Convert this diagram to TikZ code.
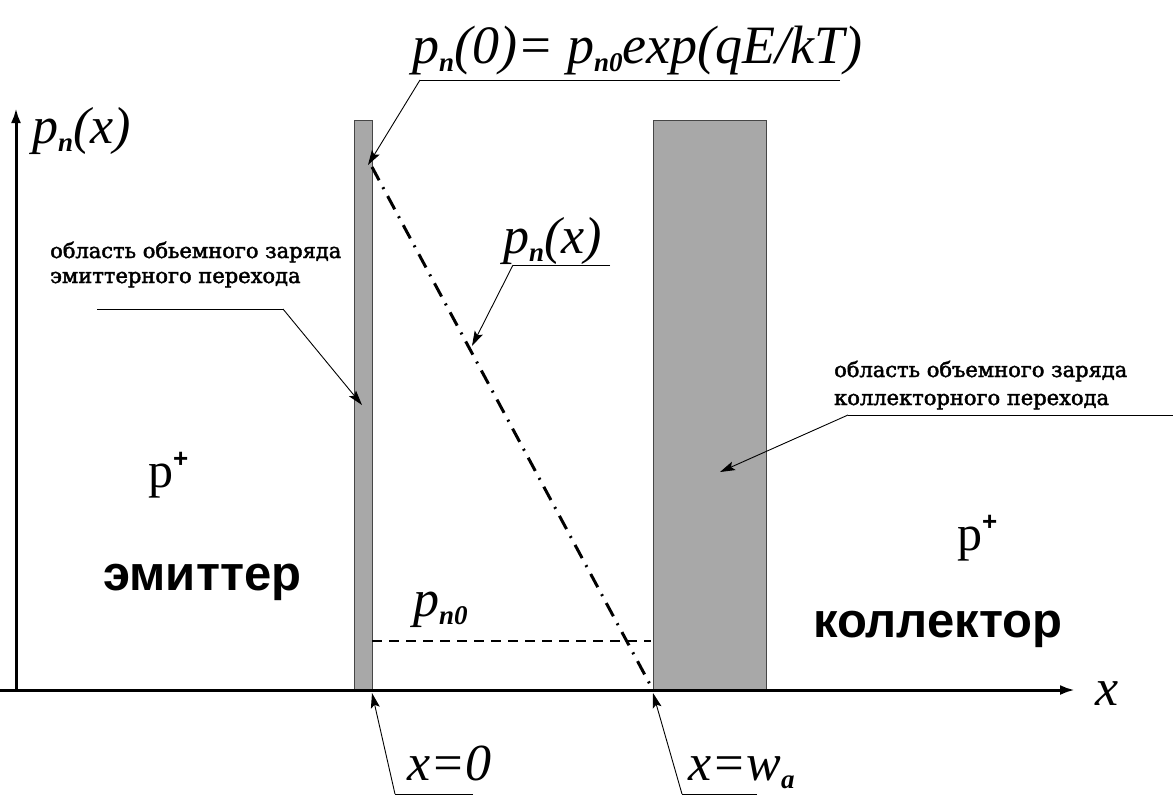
\documentclass[tikz,border=0pt]{standalone}
\usepackage{fontspec}
\setmainfont{Liberation Serif}
\setsansfont{Liberation Sans}
\newfontfamily\capfont{DejaVu Serif}[FakeBold=2]
\usetikzlibrary{arrows.meta}
\definecolor{bargray}{RGB}{168,168,168}
\definecolor{edgegray}{RGB}{70,70,70}
\newcommand\lsub[1]{\raisebox{-8pt}{\fontsize{27}{27}\selectfont\bfseries\itshape #1}}
\begin{document}
\begin{tikzpicture}[x=1pt,y=-1pt,
  lbl/.style={inner sep=0pt, anchor=base west, font=\fontsize{52}{60}\selectfont\itshape},
  captxt/.style={inner sep=0pt, anchor=base west, font=\fontsize{21}{25}\selectfont\capfont},
  region/.style={inner sep=0pt, anchor=base west, font=\fontsize{49}{60}\selectfont\sffamily\bfseries},
  dop/.style={inner sep=0pt, anchor=base west, font=\fontsize{50}{60}\selectfont},
  leader/.style={line width=0.9pt, -{Stealth[length=15pt,width=9pt,inset=3pt]}},
  uline/.style={line width=0.9pt},
  bar/.style={fill=bargray, draw=edgegray, line width=0.9pt, inner sep=0pt, anchor=south west},
  axis/.style={line width=3pt, -{Latex[length=15pt,width=10pt]}}
]
\useasboundingbox (0,0) rectangle (1173,796);

% bars
\node[bar, minimum width=18pt, minimum height=569pt] (eb) at (354,690) {};
\node[bar, minimum width=113pt, minimum height=569pt] (cb) at (653,690) {};

% axes
\coordinate (xs) at (0,690);
\coordinate (xe) at (1075,690);
\coordinate (ys) at (16,690);
\coordinate (ye) at (16,108);
\draw[axis] (xs) -- (xe);
\draw[axis] (ys) -- (ye);
\node[lbl] (xlab) at (1095,705) {x};
\node[lbl] (ylab) at (32,143) {p\lsub{n}(x)};

% profile
\coordinate (p0) at (372,167);
\coordinate (pw) at (653,690);
\draw[line width=3pt, dash pattern=on 15pt off 8pt on 2pt off 8pt] (p0) -- (pw);
\coordinate (d0) at (372,641);
\coordinate (d1) at (651,641);
\draw[line width=1.4pt, dash pattern=on 10pt off 7pt] (d0) -- (d1);
\node[lbl] (pn0) at (413,616) {p\lsub{n0}};

% top formula
\node[lbl, font=\fontsize{54}{60}\selectfont\itshape] (form) at (412,63) {p\lsub{n}(0)= p\lsub{n0}exp(qE/kT)};
\coordinate (fu1) at (420,80);
\coordinate (fu2) at (840,80);
\coordinate (ft) at (368,165);
\draw[uline] (fu2) -- (fu1);
\draw[leader] (fu1) -- (ft);

% middle label
\node[lbl] (mid) at (503,253) {p\lsub{n}(x)};
\coordinate (mu1) at (513,265);
\coordinate (mu2) at (610,265);
\coordinate (mt) at (472,346);
\draw[uline] (mu2) -- (mu1);
\draw[leader] (mu1) -- (mt);

% left caption
\node[captxt] (lc1) at (50,258) {область обьемного заряда};
\node[captxt] (lc2) at (50,283) {эмиттерного перехода};
\coordinate (lu1) at (97,309);
\coordinate (lu2) at (283,309);
\coordinate (lt) at (362,405);
\draw[uline] (lu1) -- (lu2);
\draw[leader] (lu2) -- (lt);

% right caption
\node[captxt] (rc1) at (834,377) {область объемного заряда};
\node[captxt] (rc2) at (834,405) {коллекторного перехода};
\coordinate (ru1) at (1173,415);
\coordinate (ru2) at (848,415);
\coordinate (rt) at (720,472);
\draw[uline] (ru1) -- (ru2);
\draw[leader] (ru2) -- (rt);

% regions
\node[dop] (pl) at (148,487) {p\raisebox{20pt}{\fontsize{26}{26}\selectfont\sffamily\bfseries +}};
\node[region] (em) at (103,590) {эмиттер};
\node[dop] (pr) at (957,550) {p\raisebox{20pt}{\fontsize{26}{26}\selectfont\sffamily\bfseries +}};
\node[region] (col) at (813,637) {коллектор};

% bottom labels
\node[lbl] (x0) at (407,780) {x=0};
\coordinate (bu1) at (395,794);
\coordinate (bu2) at (473,794);
\coordinate (bt) at (372,693);
\draw[uline] (bu2) -- (bu1);
\draw[leader] (bu1) -- (bt);

\node[lbl] (xw) at (688,780) {x=w\lsub{a}};
\coordinate (wu1) at (682,794);
\coordinate (wu2) at (757,794);
\coordinate (wt) at (653,693);
\draw[uline] (wu2) -- (wu1);
\draw[leader] (wu1) -- (wt);
\end{tikzpicture}
\end{document}
